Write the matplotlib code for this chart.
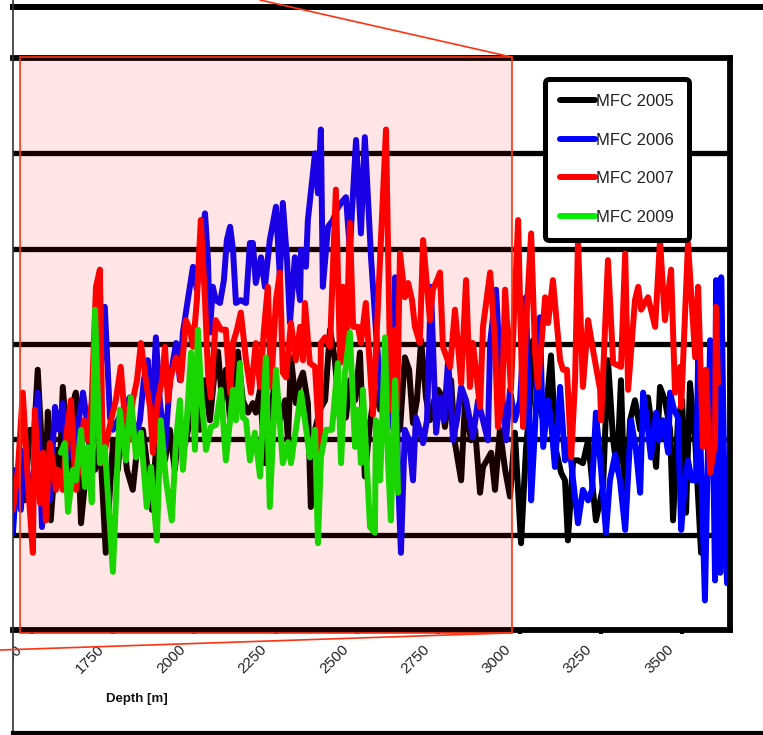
import matplotlib
matplotlib.use("Agg")
import matplotlib.pyplot as plt
import matplotlib.transforms as mtransforms
from matplotlib.lines import Line2D
from matplotlib.patches import Rectangle, ConnectionPatch

plt.rcParams['font.family'] = ['Liberation Sans', 'DejaVu Sans']

# ---------------- data ----------------
depth_2005 = [1443, 1452, 1464, 1479, 1495, 1507, 1519, 1532, 1541, 1550, 1559, 1575, 1587, 1596, 1609, 1618, 1630, 1636,
              1645, 1652, 1664, 1679, 1695, 1710, 1728, 1741, 1750, 1765, 1778, 1793, 1811, 1827, 1842, 1857, 1870, 1882,
              1894, 1910, 1925, 1940, 1956, 1971, 1987, 2002, 2017, 2033, 2048, 2060, 2073, 2085, 2097, 2110, 2122, 2134,
              2149, 2165, 2180, 2189, 2202, 2217, 2232, 2248, 2263, 2279, 2288, 2297, 2312, 2325, 2334, 2349, 2358, 2371,
              2386, 2402, 2417, 2432, 2448, 2466, 2478, 2494, 2509, 2524, 2540, 2555, 2571, 2586, 2601, 2617, 2632, 2647,
              2660, 2672, 2684, 2697, 2712, 2724, 2737, 2749, 2758, 2770, 2789, 2801, 2820, 2832, 2850, 2863, 2878, 2887,
              2899, 2912, 2924, 2939, 2955, 2970, 2985, 3004, 3019, 3032, 3041, 3056, 3072, 3084, 3096, 3111, 3127, 3139,
              3148, 3164, 3179, 3194, 3210, 3222, 3234, 3256, 3271, 3287, 3299, 3311, 3324, 3339, 3354, 3370, 3382, 3394,
              3407, 3419, 3431, 3446, 3462, 3471, 3486, 3499, 3511, 3523, 3539, 3557]
mfc_2005 = [1.68, 1.36, 1.73, 1.36, 2.10, 1.99, 2.73, 1.89, 1.36, 2.29, 1.15, 1.89, 1.68, 2.55, 1.99, 1.68, 2.41, 2.49,
            1.78, 1.12, 1.54, 1.99, 1.68, 1.99, 0.81, 1.47, 1.96, 1.68, 2.20, 1.68, 1.47, 1.99, 2.10, 1.68, 1.26, 1.89,
            2.10, 1.78, 2.10, 1.68, 2.20, 1.94, 2.20, 2.41, 2.10, 2.62, 2.20, 2.62, 2.92, 2.41, 2.73, 2.20, 2.62, 2.92,
            2.41, 2.28, 2.38, 2.28, 2.52, 1.75, 2.20, 2.62, 2.20, 2.41, 1.99, 2.86, 2.38, 2.62, 2.70, 2.38, 1.29, 2.10,
            2.31, 2.41, 3.15, 2.83, 2.20, 2.23, 2.62, 2.41, 2.91, 1.61, 2.17, 2.52, 2.31, 2.73, 2.31, 2.62, 2.10, 2.86,
            2.73, 2.17, 2.41, 3.04, 2.44, 2.20, 2.41, 2.52, 2.47, 2.13, 2.62, 1.96, 1.57, 2.41, 1.99, 2.10, 1.44, 1.71,
            1.78, 1.86, 1.47, 2.10, 1.68, 1.40, 2.07, 0.91, 1.89, 2.41, 3.04, 2.41, 2.20, 2.41, 2.88, 1.89, 1.65, 1.57,
            0.94, 1.78, 1.78, 1.75, 1.99, 1.57, 1.15, 1.50, 2.83, 1.99, 1.68, 2.62, 1.15, 2.20, 2.41, 2.10, 2.41, 2.44,
            2.10, 1.71, 2.55, 2.41, 2.10, 1.15, 2.20, 2.41, 1.23, 2.59, 1.99, 0.81]

depth_2006 = [1443, 1455, 1467, 1479, 1492, 1507, 1519, 1532, 1544, 1556, 1572, 1584, 1596, 1609, 1621, 1633, 1645, 1658,
              1670, 1682, 1695, 1710, 1725, 1741, 1750, 1765, 1781, 1802, 1818, 1833, 1845, 1857, 1870, 1882, 1894, 1910,
              1925, 1944, 1956, 1965, 1980, 1996, 2008, 2020, 2033, 2042, 2048, 2057, 2066, 2079, 2091, 2100, 2110, 2119,
              2128, 2143, 2159, 2171, 2180, 2189, 2205, 2217, 2232, 2251, 2263, 2272, 2285, 2294, 2309, 2325, 2328, 2343,
              2349, 2371, 2380, 2389, 2395, 2411, 2426, 2438, 2451, 2466, 2478, 2497, 2512, 2524, 2543, 2558, 2577, 2592,
              2607, 2617, 2626, 2635, 2647, 2660, 2672, 2681, 2693, 2703, 2715, 2727, 2743, 2755, 2767, 2780, 2795, 2807,
              2820, 2835, 2847, 2856, 2872, 2887, 2902, 2909, 2927, 2942, 2958, 2970, 2985, 3001, 3019, 3035, 3047, 3062,
              3072, 3087, 3096, 3108, 3124, 3139, 3151, 3164, 3179, 3194, 3210, 3222, 3234, 3250, 3265, 3277, 3293, 3308,
              3324, 3342, 3357, 3370, 3379, 3391, 3403, 3419, 3428, 3440, 3456, 3462, 3474, 3486, 3496, 3508, 3517, 3529,
              3542, 3548, 3569, 3585, 3594, 3600, 3603, 3616, 3619, 3631, 3637]
mfc_2006 = [1.02, 1.68, 1.26, 1.89, 1.36, 1.68, 2.49, 1.08, 1.68, 1.36, 2.34, 2.10, 2.38, 1.78, 2.10, 1.68, 2.20, 2.49,
            2.20, 1.78, 2.20, 2.62, 3.39, 2.23, 2.10, 2.20, 2.31, 2.44, 1.99, 2.20, 2.62, 2.83, 2.20, 3.07, 2.41, 1.89,
            2.62, 3.01, 2.62, 3.12, 3.46, 3.81, 3.57, 4.09, 4.37, 3.88, 3.12, 3.60, 3.46, 3.43, 3.67, 4.09, 4.23, 3.99,
            3.43, 3.46, 3.43, 4.06, 4.06, 3.64, 3.91, 3.60, 4.09, 4.44, 3.70, 4.48, 3.88, 3.22, 3.91, 3.46, 3.99, 3.81,
            4.30, 5.00, 4.58, 5.25, 3.60, 4.23, 4.30, 4.41, 4.48, 4.54, 3.99, 5.14, 4.16, 5.17, 3.91, 3.15, 2.31, 2.10,
            2.20, 3.70, 1.61, 0.81, 2.10, 1.99, 1.57, 2.23, 2.10, 1.96, 2.20, 3.60, 2.07, 2.44, 2.20, 2.83, 1.99, 2.20,
            2.55, 2.41, 2.20, 2.02, 2.41, 2.20, 1.99, 3.01, 3.57, 2.62, 1.99, 2.52, 2.20, 2.41, 3.49, 1.36, 2.13, 3.28,
            1.92, 2.41, 2.20, 1.71, 2.55, 1.78, 1.99, 1.57, 1.12, 1.47, 1.36, 1.47, 2.28, 1.68, 1.02, 1.57, 1.84, 1.57,
            1.05, 2.20, 1.89, 1.44, 2.49, 2.20, 1.81, 2.28, 1.99, 2.20, 1.86, 2.49, 2.31, 2.23, 1.05, 1.57, 1.78, 1.57,
            1.57, 2.83, 0.31, 3.04, 1.99, 0.52, 3.67, 0.60, 3.70, 1.02, 0.49]

depth_2007 = [1443, 1458, 1473, 1489, 1504, 1510, 1526, 1535, 1544, 1556, 1569, 1575, 1581, 1596, 1609, 1621, 1636, 1648,
              1661, 1673, 1685, 1698, 1710, 1719, 1731, 1744, 1759, 1774, 1787, 1799, 1811, 1824, 1836, 1851, 1864, 1873,
              1888, 1901, 1910, 1919, 1928, 1944, 1959, 1974, 1987, 1996, 2008, 2020, 2033, 2042, 2051, 2066, 2082, 2097,
              2110, 2119, 2131, 2143, 2159, 2174, 2189, 2202, 2214, 2226, 2236, 2251, 2263, 2272, 2282, 2297, 2312, 2325,
              2334, 2340, 2355, 2371, 2386, 2389, 2402, 2417, 2435, 2448, 2457, 2466, 2478, 2488, 2503, 2512, 2527, 2549,
              2589, 2604, 2617, 2623, 2632, 2647, 2657, 2669, 2678, 2693, 2703, 2724, 2733, 2746, 2755, 2764, 2786, 2801,
              2820, 2835, 2847, 2856, 2878, 2887, 2909, 2924, 2933, 2946, 2955, 2973, 2995, 3010, 3019, 3035, 3047, 3056,
              3078, 3087, 3102, 3124, 3133, 3145, 3158, 3170, 3179, 3194, 3210, 3225, 3247, 3250, 3271, 3287, 3311, 3324,
              3333, 3354, 3364, 3373, 3394, 3416, 3431, 3446, 3465, 3477, 3493, 3496, 3517, 3539, 3548, 3563, 3572, 3585,
              3600, 3603, 3609]
mfc_2007 = [1.26, 1.68, 2.49, 1.54, 0.81, 2.31, 1.33, 1.86, 1.15, 1.96, 1.68, 1.47, 1.68, 1.47, 2.10, 2.41, 1.47, 1.78,
            2.20, 1.99, 2.41, 3.60, 3.78, 1.75, 1.99, 2.20, 2.41, 2.76, 2.20, 1.99, 2.41, 2.62, 3.01, 2.62, 2.34, 1.86,
            2.41, 2.62, 2.97, 2.41, 2.65, 2.86, 2.62, 3.25, 3.15, 2.97, 3.46, 4.30, 3.46, 2.70, 2.44, 3.25, 3.15, 3.15,
            2.49, 3.01, 3.15, 3.33, 2.83, 2.49, 3.01, 2.55, 3.15, 3.60, 2.55, 3.46, 3.75, 2.70, 2.65, 3.22, 2.83, 3.18,
            2.83, 3.43, 2.80, 2.76, 1.89, 3.01, 3.07, 2.97, 4.62, 2.80, 3.60, 2.80, 4.27, 3.18, 3.18, 3.01, 3.43, 2.26,
            5.25, 2.31, 3.15, 2.31, 3.95, 3.49, 3.64, 3.46, 3.18, 3.01, 4.09, 3.25, 3.57, 3.67, 3.75, 2.97, 2.76, 3.36,
            2.59, 3.67, 2.55, 3.01, 2.34, 3.18, 3.75, 3.01, 2.13, 2.41, 3.57, 2.52, 4.30, 2.13, 3.18, 4.16, 2.91, 2.55,
            3.49, 3.22, 3.67, 2.83, 2.73, 2.73, 1.81, 2.62, 4.09, 2.55, 3.25, 2.94, 2.52, 2.20, 3.88, 2.80, 2.76, 3.95,
            2.52, 3.46, 3.60, 3.36, 3.49, 3.18, 4.09, 3.25, 3.78, 2.49, 2.76, 2.34, 4.06, 2.86, 3.60, 1.92, 2.73, 1.65,
            1.96, 3.39, 2.59]

depth_2009 = [1590, 1602, 1612, 1627, 1636, 1652, 1664, 1673, 1685, 1695, 1710, 1725, 1750, 1771, 1790, 1805, 1821, 1836,
              1854, 1867, 1885, 1897, 1913, 1931, 1944, 1956, 1965, 1977, 1990, 2002, 2011, 2023, 2036, 2051, 2066, 2082,
              2097, 2110, 2119, 2128, 2140, 2149, 2159, 2171, 2186, 2202, 2220, 2232, 2251, 2272, 2288, 2297, 2312, 2328,
              2340, 2355, 2371, 2380, 2389, 2405, 2423, 2441, 2451, 2463, 2478, 2494, 2503, 2512, 2518, 2540, 2555, 2558,
              2571, 2586, 2595, 2604, 2617, 2626]
mfc_2009 = [1.86, 1.96, 1.24, 1.68, 1.57, 2.10, 1.50, 1.92, 1.34, 3.36, 1.75, 1.92, 0.61, 2.31, 1.78, 2.44, 1.81, 2.07,
            1.29, 1.71, 0.94, 2.20, 1.57, 1.15, 1.99, 2.41, 1.68, 2.20, 2.91, 1.89, 3.15, 2.41, 1.89, 2.13, 2.15, 2.52,
            1.78, 2.20, 2.52, 2.20, 2.80, 2.23, 2.20, 1.78, 2.07, 1.61, 2.86, 1.29, 2.73, 1.75, 1.97, 1.75, 2.10, 2.49,
            2.20, 1.81, 2.10, 0.91, 1.81, 2.10, 2.10, 2.80, 1.75, 2.70, 3.12, 1.92, 2.31, 1.75, 2.52, 1.08, 1.02, 2.20,
            1.57, 3.07, 1.78, 1.15, 2.62, 1.44]

series_labels = ["MFC 2005", "MFC 2006", "MFC 2007", "MFC 2009"]
series_colors = ["#000000", "#0000ff", "#ff0000", "#00ee00"]

x_ticks = [1500, 1750, 2000, 2250, 2500, 2750, 3000, 3250, 3500]
x_tick_labels = ["1500", "1750", "2000", "2250", "2500", "2750", "3000", "3250", "3500"]
y_grid = [1, 2, 3, 4, 5]

zoom_box = [1466, 2975, -0.03, 6.01]  # x0, x1, y0, y1

# ---------------- figure ----------------
W, H = 763, 735
fig = plt.figure(figsize=(W / 100, H / 100), dpi=100)
ax = fig.add_axes([13 / W, 1 - 630 / H, (730 - 13) / W, (630 - 58) / H])

for d, v, lab, col in zip([depth_2005, depth_2006, depth_2007, depth_2009],
                          [mfc_2005, mfc_2006, mfc_2007, mfc_2009],
                          series_labels, series_colors):
    ax.plot(d, v, color=col, lw=4.3, label=lab, solid_capstyle='round',
            solid_joinstyle='round', zorder=3)

ax.set_xlim(1443, 3646)
ax.set_ylim(0, 6)
for g in y_grid:
    ax.axhline(g, color='black', lw=3.8, zorder=1)

for s in ['top', 'right', 'bottom']:
    ax.spines[s].set_linewidth(4.2)
    ax.spines[s].set_color('black')
    ax.spines[s].set_zorder(6)
ax.spines['left'].set_visible(False)

ax.set_yticks([])
ax.set_xticks(x_ticks)
ax.set_xticklabels(x_tick_labels, rotation=45, ha='right', va='top',
                   rotation_mode='anchor', fontsize=11, color='#222222')
ax.tick_params(axis='x', direction='out', length=3, width=3, color='black', pad=6)
offset = mtransforms.ScaledTranslation(-0.16, 0, fig.dpi_scale_trans)
clip = mtransforms.TransformedBbox(mtransforms.Bbox([[13 / W, 0], [1, 1]]), fig.transFigure)
for lbl in ax.get_xticklabels():
    lbl.set_transform(lbl.get_transform() + offset)
    lbl.set_clip_box(clip)
    lbl.set_clip_on(True)

ax.set_xlabel("Depth [m]", fontsize=9.5, fontweight='bold', color='#111111')
ax.xaxis.set_label_coords((137 - 13) / (730 - 13), -0.11)

# zoom rectangle (translucent red overlay)
rect = Rectangle((zoom_box[0], zoom_box[2]), zoom_box[1] - zoom_box[0], zoom_box[3] - zoom_box[2],
                 facecolor=(1, 0, 0, 0.1), edgecolor='#ff3311', lw=1.2, zorder=7, clip_on=False)
ax.add_patch(rect)

# connector lines
c1 = ConnectionPatch(xyA=(260 / W, 1.0), coordsA=fig.transFigure,
                     xyB=(zoom_box[1], zoom_box[3]), coordsB=ax.transData,
                     color='#ff3311', lw=1.2, zorder=8)
c2 = ConnectionPatch(xyA=(0.0, 1 - 650 / H), coordsA=fig.transFigure,
                     xyB=(zoom_box[1], zoom_box[2]), coordsB=ax.transData,
                     color='#ff3311', lw=1.2, zorder=8)
fig.add_artist(c1)
fig.add_artist(c2)

leg = ax.legend(loc='upper left', bbox_to_anchor=((545 - 13) / (730 - 13), (630 - 79) / (630 - 58)),
                fontsize=12, frameon=True, fancybox=True, framealpha=1, edgecolor='black',
                handlelength=2.1, handletextpad=0.05, labelspacing=1.42, borderpad=0.9,
                borderaxespad=0)
leg.get_frame().set_linewidth(3.6)
leg.get_frame().set_boxstyle('round', pad=0, rounding_size=0.25)
leg.set_zorder(10)
for t in leg.get_texts():
    t.set_color('#222222')

# outer frame lines of the (cropped) figure
fig.add_artist(Line2D([13 / W, 1], [1 - 7 / H, 1 - 7 / H], transform=fig.transFigure, color='black', lw=4.3))
fig.add_artist(Line2D([13 / W, 13 / W], [0, 1], transform=fig.transFigure, color='#333333', lw=1.2))
fig.add_artist(Line2D([13 / W, 1], [1 - 733 / H, 1 - 733 / H], transform=fig.transFigure, color='black', lw=3.0))

fig.savefig("out.png", dpi=100)
